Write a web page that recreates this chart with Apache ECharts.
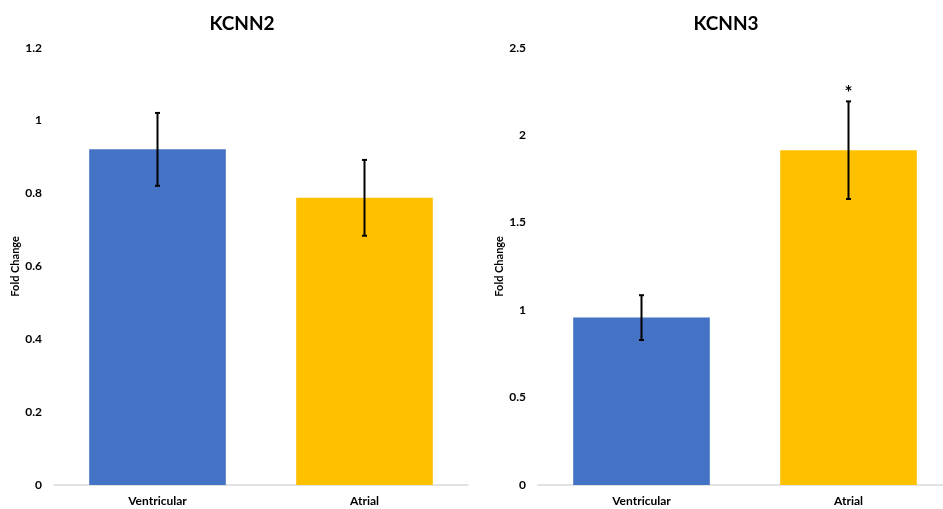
<!DOCTYPE html>
<html>
<head>
<meta charset="utf-8">
<script src="https://cdn.jsdelivr.net/npm/echarts@6/dist/echarts.min.js"></script>
<style>
html,body{margin:0;padding:0;background:#fff;overflow:hidden;width:943px;height:509px;}
#chart{width:960px;height:509px;}
</style>
</head>
<body>
<div id="chart"></div>
<script>
var categories = ['Ventricular', 'Atrial'];
var kcnn2Values = [0.921, 0.788];
var kcnn2Errors = [0.100, 0.104];
var kcnn3Values = [0.957, 1.914];
var kcnn3Errors = [0.128, 0.279];
var kcnn3Significance = ['', '*'];
var kcnn2Ticks = { min: 0, max: 1.2, interval: 0.2 };
var kcnn3Ticks = { min: 0, max: 2.5, interval: 0.5 };
var barColors = ['#4472C4', '#FFC000'];

var FONT = 'Lato, "Open Sans", sans-serif';

function errData(vals, errs) {
  return vals.map(function (v, i) { return [i, v - errs[i], v + errs[i]]; });
}

function makeErrorSeries(axisIndex, vals, errs, sig) {
  return {
    type: 'custom',
    xAxisIndex: axisIndex,
    yAxisIndex: axisIndex,
    z: 10,
    data: errData(vals, errs),
    renderItem: function (params, api) {
      var x = api.value(0), lo = api.value(1), hi = api.value(2);
      var pHi = api.coord([x, hi]);
      var pLo = api.coord([x, lo]);
      var cap = 2.5;
      var st = { stroke: '#000', lineWidth: 2 };
      var children = [
        { type: 'line', shape: { x1: pHi[0], y1: pHi[1], x2: pLo[0], y2: pLo[1] }, style: st },
        { type: 'line', shape: { x1: pHi[0] - cap, y1: pHi[1], x2: pHi[0] + cap, y2: pHi[1] }, style: st },
        { type: 'line', shape: { x1: pLo[0] - cap, y1: pLo[1], x2: pLo[0] + cap, y2: pLo[1] }, style: st }
      ];
      var s = sig ? sig[params.dataIndex] : '';
      if (s) {
        children.push({
          type: 'text',
          style: {
            text: s, x: pHi[0], y: pHi[1] + 1,
            align: 'center', verticalAlign: 'bottom',
            font: 'bold 19px ' + FONT, fill: '#000'
          }
        });
      }
      return { type: 'group', children: children };
    }
  };
}

function barSeries(axisIndex, vals) {
  return {
    type: 'bar',
    xAxisIndex: axisIndex,
    yAxisIndex: axisIndex,
    barWidth: '66%',
    data: vals.map(function (v, i) { return { value: v, itemStyle: { color: barColors[i] } }; })
  };
}

function xAxisDef(gi) {
  return {
    type: 'category', gridIndex: gi, data: categories,
    axisLine: { lineStyle: { color: '#d9d9d9', width: 1.5 } },
    axisTick: { show: false },
    axisLabel: { color: '#000', fontWeight: 'bold', fontSize: 12, fontFamily: FONT, margin: 10 }
  };
}

function yAxisDef(gi, t) {
  return {
    type: 'value', gridIndex: gi, min: t.min, max: t.max, interval: t.interval,
    name: 'Fold Change', nameLocation: 'middle', nameGap: 33,
    nameTextStyle: { color: '#000', fontWeight: 'bold', fontSize: 11, fontFamily: FONT },
    splitLine: { show: false },
    axisLine: { show: false },
    axisTick: { show: false },
    axisLabel: { color: '#000', fontWeight: 'bold', fontSize: 12, fontFamily: FONT, margin: 12 }
  };
}

var chart = echarts.init(document.getElementById('chart'), null, { renderer: 'canvas' });
chart.setOption({
  animation: false,
  backgroundColor: '#fff',
  title: [
    { text: 'KCNN2', left: 237, top: 9, textAlign: 'center',
      textStyle: { fontSize: 19, fontWeight: 'bold', fontFamily: FONT, color: '#000' } },
    { text: 'KCNN3', left: 721, top: 9, textAlign: 'center',
      textStyle: { fontSize: 19, fontWeight: 'bold', fontFamily: FONT, color: '#000' } }
  ],
  grid: [
    { left: 54, width: 414, top: 47.7, bottom: 24 },
    { left: 538, width: 414, top: 47.7, bottom: 24 }
  ],
  xAxis: [xAxisDef(0), xAxisDef(1)],
  yAxis: [yAxisDef(0, kcnn2Ticks), yAxisDef(1, kcnn3Ticks)],
  series: [
    barSeries(0, kcnn2Values),
    makeErrorSeries(0, kcnn2Values, kcnn2Errors, null),
    barSeries(1, kcnn3Values),
    makeErrorSeries(1, kcnn3Values, kcnn3Errors, kcnn3Significance)
  ]
});
</script>
</body>
</html>
